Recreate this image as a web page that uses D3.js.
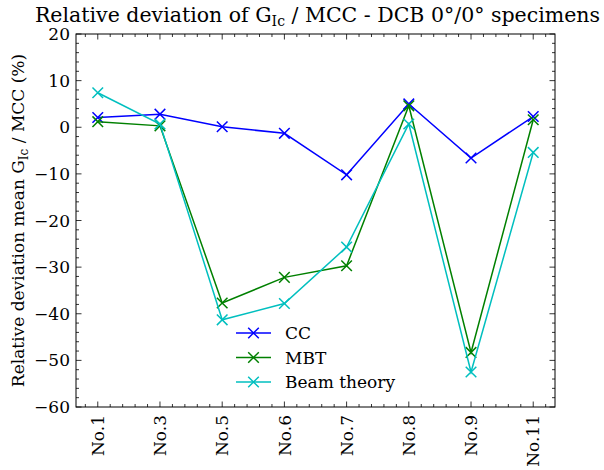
<!DOCTYPE html>
<html>
<head>
<meta charset="utf-8">
<script src="https://cdn.jsdelivr.net/npm/d3@7"></script>
<style>
  body { margin: 0; background: #fff; }
  svg { display: block; }
  text { font-family: "DejaVu Serif", serif; fill: #000; }
</style>
</head>
<body>
<svg id="chart" width="604" height="470"></svg>
<script>
// specimens and deviations (%)
var specimens = ['No.1', 'No.3', 'No.5', 'No.6', 'No.7', 'No.8', 'No.9', 'No.11'];
var ccValues   = [2.1, 2.8, 0.1, -1.3, -10.2, 5.0, -6.6, 2.3];
var mbtValues  = [1.2, 0.3, -37.7, -32.2, -29.7, 4.6, -48.3, 1.6];
var beamValues = [7.4, 0.7, -41.3, -37.8, -25.7, 0.7, -52.5, -5.4];
var yTicks = [20, 10, 0, -10, -20, -30, -40, -50, -60];

var series = [
	{name: 'CC', values: ccValues, color: '#0000ff'},
	{name: 'MBT', values: mbtValues, color: '#008000'},
	{name: 'Beam theory', values: beamValues, color: '#00bfbf'}
];

var margin = {top: 34, right: 49, bottom: 63, left: 76};
var width = 604 - margin.left - margin.right,
	height = 470 - margin.top - margin.bottom;
var fs = '17px';

var svg = d3.select('#chart');
var g = svg.append('g').attr('transform', 'translate(' + margin.left + ',' + margin.top + ')');

// categorical axis as index, matplotlib-like 5% padding
var x = d3.scaleLinear().domain([-0.35, specimens.length - 1 + 0.35]).range([0, width]);
var y = d3.scaleLinear().domain([-60, 20]).range([height, 0]);

var majorX = d3.range(specimens.length);
var minorX = d3.range(-0.2, specimens.length - 1 + 0.35, 0.2).filter(function(d) {
	return Math.abs(d - Math.round(d)) > 1e-6;
});
var minorY = d3.range(-60, 20.01, 2).filter(function(d) { return d % 10 !== 0; });

// ticks, inward on all sides
var ticks = g.append('g').attr('stroke', '#000').attr('stroke-width', 0.8);
function tickMarks(vals, len, horizontal) {
	vals.forEach(function(v) {
		if (horizontal) {
			var px = x(v);
			ticks.append('line').attr('x1', px).attr('x2', px).attr('y1', height).attr('y2', height - len);
			ticks.append('line').attr('x1', px).attr('x2', px).attr('y1', 0).attr('y2', len);
		} else {
			var py = y(v);
			ticks.append('line').attr('y1', py).attr('y2', py).attr('x1', 0).attr('x2', len);
			ticks.append('line').attr('y1', py).attr('y2', py).attr('x1', width).attr('x2', width - len);
		}
	});
}
tickMarks(majorX, 5.5, true);
tickMarks(minorX, 3, true);
tickMarks(yTicks, 5.5, false);
tickMarks(minorY, 3, false);

// tick labels
g.selectAll('.ylab').data(yTicks).enter().append('text')
	.attr('x', -6).attr('y', function(d) { return y(d); })
	.attr('dy', '0.36em').attr('text-anchor', 'end')
	.style('font-size', fs)
	.text(function(d) { return d < 0 ? '\u2212' + Math.abs(d) : d; });

g.selectAll('.xlab').data(specimens).enter().append('text')
	.attr('transform', function(d, i) { return 'translate(' + x(i) + ',' + (height + 8) + ') rotate(-90)'; })
	.attr('dy', '0.36em').attr('text-anchor', 'end')
	.style('font-size', fs)
	.text(function(d) { return d; });

// lines and x markers
var line = d3.line().x(function(d, i) { return x(i); }).y(function(d) { return y(d); });
var ms = 5.3;
var cross = 'M' + -ms + ',' + -ms + 'L' + ms + ',' + ms + 'M' + -ms + ',' + ms + 'L' + ms + ',' + -ms;
series.forEach(function(s) {
	g.append('path').datum(s.values).attr('d', line)
		.attr('fill', 'none').attr('stroke', s.color).attr('stroke-width', 1.5);
	g.selectAll(null).data(s.values).enter().append('path')
		.attr('transform', function(d, i) { return 'translate(' + x(i) + ',' + y(d) + ')'; })
		.attr('d', cross)
		.attr('stroke', s.color).attr('stroke-width', 1.5).attr('fill', 'none');
});

// frame
g.append('rect').attr('width', width).attr('height', height)
	.attr('fill', 'none').attr('stroke', '#000').attr('stroke-width', 1);

// legend
var leg = g.append('g').attr('transform', 'translate(' + (236 - margin.left) + ',' + (333 - margin.top) + ')');
series.forEach(function(s, i) {
	var row = leg.append('g').attr('transform', 'translate(0,' + (i * 24.5) + ')');
	row.append('line').attr('x1', 0).attr('x2', 35).attr('stroke', s.color).attr('stroke-width', 1.5);
	row.append('path').attr('transform', 'translate(17.5,0)')
		.attr('d', cross)
		.attr('stroke', s.color).attr('stroke-width', 1.5);
	row.append('text').attr('x', 49).attr('dy', '0.36em').style('font-size', fs).text(s.name);
});

// title
var title = svg.append('text').attr('x', margin.left + width / 2 + 2).attr('y', 22)
	.attr('text-anchor', 'middle').style('font-size', '20.5px');
title.append('tspan').text('Relative deviation of G');
title.append('tspan').attr('dy', 4).style('font-size', '14px').text('Ic');
title.append('tspan').attr('dy', -4).text(' / MCC - DCB 0\u00b0/0\u00b0 specimens');

// y label
var ylab = svg.append('text')
	.attr('transform', 'translate(24,' + (margin.top + height / 2) + ') rotate(-90)')
	.attr('text-anchor', 'middle').style('font-size', fs);
ylab.append('tspan').text('Relative deviation mean G');
ylab.append('tspan').attr('dy', 3.5).style('font-size', '12px').text('Ic');
ylab.append('tspan').attr('dy', -3.5).text(' / MCC (%)');
</script>
</body>
</html>
